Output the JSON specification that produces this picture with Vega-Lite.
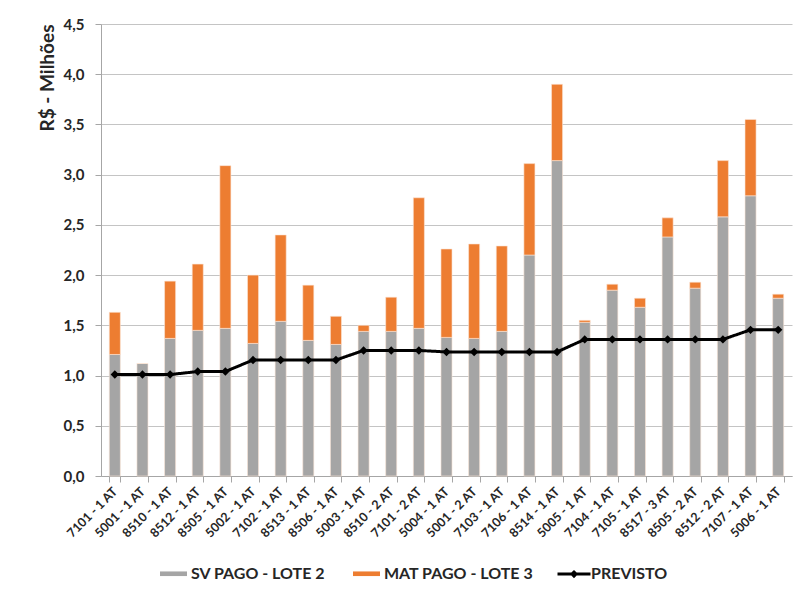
{
  "$schema": "https://vega.github.io/schema/vega-lite/v6.json",
  "width": 691,
  "height": 452,
  "autosize": {"type": "none"},
  "padding": {"left": 101, "top": 24, "right": 5, "bottom": 117},
  "background": "white",
  "config": {"view": {"stroke": null}, "font": "Lato"},
  "datasets": {
    "bars": [
      {"cat": "7101 - 1 AT", "serie": "SV PAGO - LOTE 2", "valor": 1.21},
      {"cat": "7101 - 1 AT", "serie": "MAT PAGO - LOTE 3", "valor": 0.42},
      {"cat": "5001 - 1 AT", "serie": "SV PAGO - LOTE 2", "valor": 1.12},
      {"cat": "5001 - 1 AT", "serie": "MAT PAGO - LOTE 3", "valor": 0},
      {"cat": "8510 - 1 AT", "serie": "SV PAGO - LOTE 2", "valor": 1.37},
      {"cat": "8510 - 1 AT", "serie": "MAT PAGO - LOTE 3", "valor": 0.57},
      {"cat": "8512 - 1 AT", "serie": "SV PAGO - LOTE 2", "valor": 1.45},
      {"cat": "8512 - 1 AT", "serie": "MAT PAGO - LOTE 3", "valor": 0.66},
      {"cat": "8505 - 1 AT", "serie": "SV PAGO - LOTE 2", "valor": 1.47},
      {"cat": "8505 - 1 AT", "serie": "MAT PAGO - LOTE 3", "valor": 1.62},
      {"cat": "5002 - 1 AT", "serie": "SV PAGO - LOTE 2", "valor": 1.32},
      {"cat": "5002 - 1 AT", "serie": "MAT PAGO - LOTE 3", "valor": 0.68},
      {"cat": "7102 - 1 AT", "serie": "SV PAGO - LOTE 2", "valor": 1.54},
      {"cat": "7102 - 1 AT", "serie": "MAT PAGO - LOTE 3", "valor": 0.86},
      {"cat": "8513 - 1 AT", "serie": "SV PAGO - LOTE 2", "valor": 1.35},
      {"cat": "8513 - 1 AT", "serie": "MAT PAGO - LOTE 3", "valor": 0.55},
      {"cat": "8506 - 1 AT", "serie": "SV PAGO - LOTE 2", "valor": 1.31},
      {"cat": "8506 - 1 AT", "serie": "MAT PAGO - LOTE 3", "valor": 0.28},
      {"cat": "5003 - 1 AT", "serie": "SV PAGO - LOTE 2", "valor": 1.44},
      {"cat": "5003 - 1 AT", "serie": "MAT PAGO - LOTE 3", "valor": 0.06},
      {"cat": "8510 - 2 AT", "serie": "SV PAGO - LOTE 2", "valor": 1.44},
      {"cat": "8510 - 2 AT", "serie": "MAT PAGO - LOTE 3", "valor": 0.34},
      {"cat": "7101 - 2 AT", "serie": "SV PAGO - LOTE 2", "valor": 1.47},
      {"cat": "7101 - 2 AT", "serie": "MAT PAGO - LOTE 3", "valor": 1.30},
      {"cat": "5004 - 1 AT", "serie": "SV PAGO - LOTE 2", "valor": 1.38},
      {"cat": "5004 - 1 AT", "serie": "MAT PAGO - LOTE 3", "valor": 0.88},
      {"cat": "5001 - 2 AT", "serie": "SV PAGO - LOTE 2", "valor": 1.37},
      {"cat": "5001 - 2 AT", "serie": "MAT PAGO - LOTE 3", "valor": 0.94},
      {"cat": "7103 - 1 AT", "serie": "SV PAGO - LOTE 2", "valor": 1.44},
      {"cat": "7103 - 1 AT", "serie": "MAT PAGO - LOTE 3", "valor": 0.85},
      {"cat": "7106 - 1 AT", "serie": "SV PAGO - LOTE 2", "valor": 2.20},
      {"cat": "7106 - 1 AT", "serie": "MAT PAGO - LOTE 3", "valor": 0.91},
      {"cat": "8514 - 1 AT", "serie": "SV PAGO - LOTE 2", "valor": 3.14},
      {"cat": "8514 - 1 AT", "serie": "MAT PAGO - LOTE 3", "valor": 0.76},
      {"cat": "5005 - 1 AT", "serie": "SV PAGO - LOTE 2", "valor": 1.53},
      {"cat": "5005 - 1 AT", "serie": "MAT PAGO - LOTE 3", "valor": 0.02},
      {"cat": "7104 - 1 AT", "serie": "SV PAGO - LOTE 2", "valor": 1.85},
      {"cat": "7104 - 1 AT", "serie": "MAT PAGO - LOTE 3", "valor": 0.06},
      {"cat": "7105 - 1 AT", "serie": "SV PAGO - LOTE 2", "valor": 1.68},
      {"cat": "7105 - 1 AT", "serie": "MAT PAGO - LOTE 3", "valor": 0.09},
      {"cat": "8517 - 3 AT", "serie": "SV PAGO - LOTE 2", "valor": 2.38},
      {"cat": "8517 - 3 AT", "serie": "MAT PAGO - LOTE 3", "valor": 0.19},
      {"cat": "8505 - 2 AT", "serie": "SV PAGO - LOTE 2", "valor": 1.87},
      {"cat": "8505 - 2 AT", "serie": "MAT PAGO - LOTE 3", "valor": 0.06},
      {"cat": "8512 - 2 AT", "serie": "SV PAGO - LOTE 2", "valor": 2.58},
      {"cat": "8512 - 2 AT", "serie": "MAT PAGO - LOTE 3", "valor": 0.56},
      {"cat": "7107 - 1 AT", "serie": "SV PAGO - LOTE 2", "valor": 2.79},
      {"cat": "7107 - 1 AT", "serie": "MAT PAGO - LOTE 3", "valor": 0.76},
      {"cat": "5006 - 1 AT", "serie": "SV PAGO - LOTE 2", "valor": 1.77},
      {"cat": "5006 - 1 AT", "serie": "MAT PAGO - LOTE 3", "valor": 0.04}
    ],
    "prev": [
      {"cat": "7101 - 1 AT", "previsto": 1.01},
      {"cat": "5001 - 1 AT", "previsto": 1.01},
      {"cat": "8510 - 1 AT", "previsto": 1.01},
      {"cat": "8512 - 1 AT", "previsto": 1.04},
      {"cat": "8505 - 1 AT", "previsto": 1.04},
      {"cat": "5002 - 1 AT", "previsto": 1.155},
      {"cat": "7102 - 1 AT", "previsto": 1.155},
      {"cat": "8513 - 1 AT", "previsto": 1.155},
      {"cat": "8506 - 1 AT", "previsto": 1.155},
      {"cat": "5003 - 1 AT", "previsto": 1.25},
      {"cat": "8510 - 2 AT", "previsto": 1.25},
      {"cat": "7101 - 2 AT", "previsto": 1.25},
      {"cat": "5004 - 1 AT", "previsto": 1.235},
      {"cat": "5001 - 2 AT", "previsto": 1.235},
      {"cat": "7103 - 1 AT", "previsto": 1.235},
      {"cat": "7106 - 1 AT", "previsto": 1.235},
      {"cat": "8514 - 1 AT", "previsto": 1.235},
      {"cat": "5005 - 1 AT", "previsto": 1.36},
      {"cat": "7104 - 1 AT", "previsto": 1.36},
      {"cat": "7105 - 1 AT", "previsto": 1.36},
      {"cat": "8517 - 3 AT", "previsto": 1.36},
      {"cat": "8505 - 2 AT", "previsto": 1.36},
      {"cat": "8512 - 2 AT", "previsto": 1.36},
      {"cat": "7107 - 1 AT", "previsto": 1.455},
      {"cat": "5006 - 1 AT", "previsto": 1.455}
    ]
  },
  "layer": [
    {
      "data": {"name": "bars"},
      "mark": {"type": "bar", "stroke": "#FBE5D6", "strokeWidth": 0.6},
      "encoding": {
        "x": {
          "field": "cat", "type": "nominal", "sort": null, "title": null,
          "scale": {"paddingInner": 0.6, "paddingOuter": 0.3},
          "axis": {
            "tickBand": "extent", "tickSize": 6, "tickColor": "#A6A6A6",
            "domainColor": "#A6A6A6", "labelAngle": -45, "labelAlign": "right",
            "labelBaseline": "middle", "labelPadding": 7, "labelFontSize": 12.5,
            "labelFontWeight": "bold", "labelColor": "#262626", "grid": false
          }
        },
        "y": {
          "field": "valor", "type": "quantitative", "stack": "zero",
          "title": "R$ - Milhões",
          "scale": {"domain": [0, 4.5], "nice": false},
          "axis": {
            "values": [0, 0.5, 1, 1.5, 2, 2.5, 3, 3.5, 4, 4.5],
            "labelExpr": "replace(format(datum.value, '.1f'), '.', ',')",
            "tickSize": 6, "tickColor": "#A6A6A6", "domainColor": "#A6A6A6",
            "gridColor": "#C4C4C4", "labelPadding": 11, "labelFontSize": 15,
            "labelFontWeight": "bold", "labelColor": "#262626",
            "titleFontSize": 19, "titleFontWeight": "bold", "titleColor": "#262626",
            "titleAnchor": "end", "titlePadding": 6
          }
        },
        "color": {
          "field": "serie", "type": "nominal",
          "scale": {
            "domain": ["SV PAGO - LOTE 2", "MAT PAGO - LOTE 3"],
            "range": ["#A5A5A5", "#ED7D31"]
          },
          "legend": {
            "orient": "none", "legendX": 56, "legendY": 533,
            "direction": "horizontal", "title": null,
            "labelFontSize": 16, "labelFontWeight": "bold", "labelColor": "#262626",
            "symbolSize": 1089, "labelOffset": 1, "columnPadding": 24,
            "symbolType": "M-0.82,-0.14H0.82V0.14H-0.82Z",
            "symbolStrokeWidth": 0, "symbolOpacity": 1
          }
        },
        "order": {"field": "serie", "sort": "descending"}
      }
    },
    {
      "data": {"name": "prev"},
      "mark": {
        "type": "line", "color": "#000000", "strokeWidth": 3,
        "point": {"shape": "diamond", "filled": true, "size": 70, "color": "#000000"}
      },
      "encoding": {
        "x": {"field": "cat", "type": "nominal", "sort": null, "title": null},
        "y": {"field": "previsto", "type": "quantitative", "title": "R$ - Milhões"},
        "strokeDash": {
          "datum": "PREVISTO", "type": "nominal",
          "scale": {"range": [[1, 0]]},
          "legend": {
            "orient": "none", "legendX": 456, "legendY": 533,
            "direction": "horizontal", "title": null,
            "labelFontSize": 16, "labelFontWeight": "bold", "labelColor": "#262626",
            "symbolSize": 1089, "labelOffset": 0,
            "symbolType": "M-1,-0.09H-0.16L0,-0.25L0.16,-0.09H1V0.09H0.16L0,0.25L-0.16,0.09H-1Z",
            "symbolStrokeColor": "#000000", "symbolFillColor": "#000000",
            "symbolStrokeWidth": 0.5, "symbolOpacity": 1, "symbolDash": [1, 0]
          }
        }
      }
    }
  ]
}
